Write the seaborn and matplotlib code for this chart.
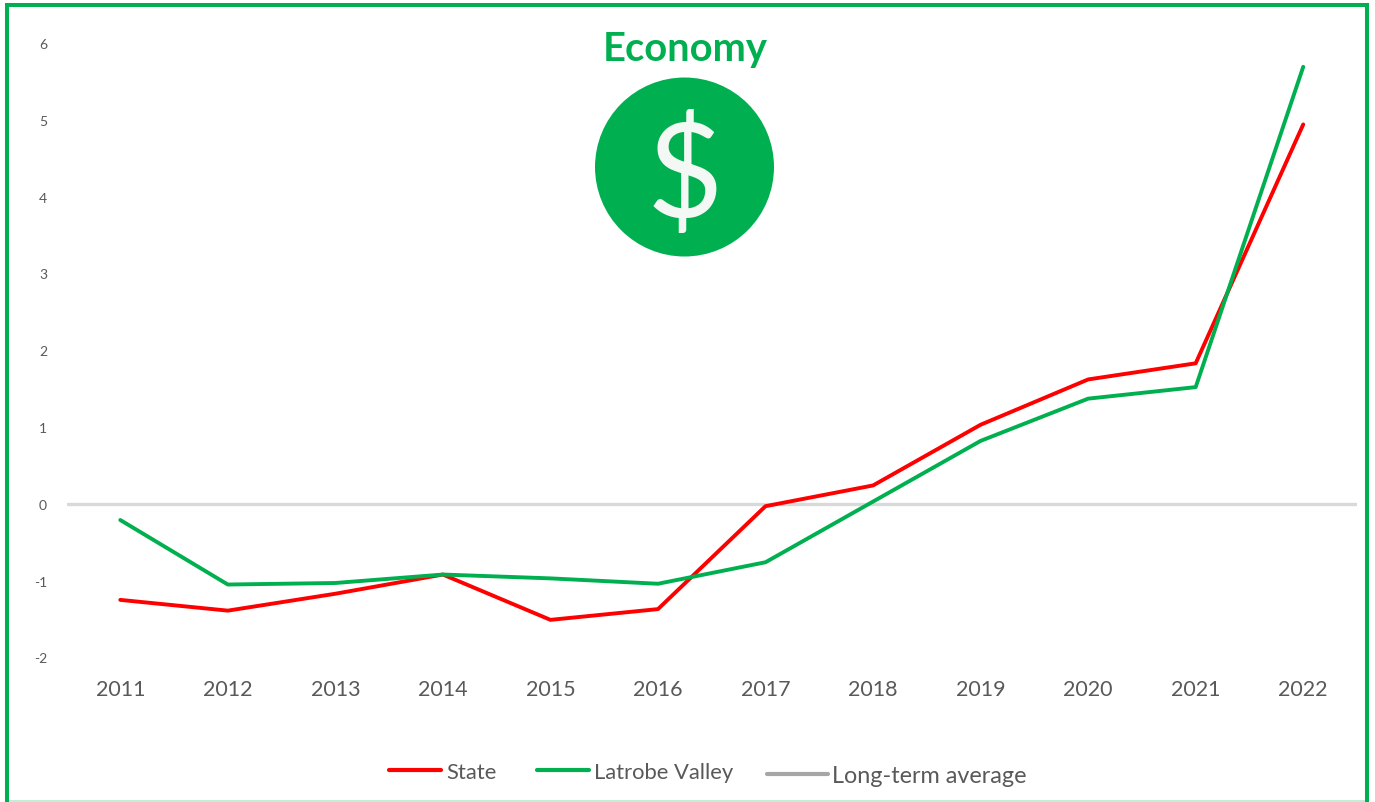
import matplotlib
matplotlib.use('Agg')
import matplotlib.pyplot as plt
import seaborn as sns
import pandas as pd
from matplotlib.lines import Line2D
from matplotlib.patches import Circle

years = [2011, 2012, 2013, 2014, 2015, 2016, 2017, 2018, 2019, 2020, 2021, 2022]
state = [-1.25, -1.39, -1.17, -0.92, -1.51, -1.37, -0.03, 0.24, 1.03, 1.62, 1.83, 4.94]
latrobe = [-0.21, -1.05, -1.03, -0.92, -0.97, -1.04, -0.76, 0.03, 0.82, 1.37, 1.52, 5.69]
long_term = 0
y_ticks = [-2, -1, 0, 1, 2, 3, 4, 5, 6]

RED = '#ff0000'
GREEN = '#00b050'
TEXT = '#595959'
W, H = 1375, 803


def fx(px):
    return px / W


def fy(px):
    return 1 - px / H


sns.set_theme(style='white')
plt.rcParams['font.family'] = ['Lato', 'DejaVu Sans']
plt.rcParams['axes.unicode_minus'] = False

df = pd.DataFrame({'year': years, 'State': state, 'Latrobe Valley': latrobe})
long_df = df.melt('year', var_name='series', value_name='value')

fig = plt.figure(figsize=(13.75, 8.03), dpi=100)
ax = fig.add_axes([fx(66.5), fy(658.5), fx(1357 - 66.5), (658.5 - 44) / H])

ax.axhline(long_term, color='#d9d9d9', lw=2.4, zorder=1)
sns.lineplot(data=long_df, x='year', y='value', hue='series',
             palette={'State': RED, 'Latrobe Valley': GREEN},
             hue_order=['State', 'Latrobe Valley'],
             lw=2.8, legend=False, ax=ax, zorder=3)

ax.set_xlim(2010.5, 2022.5)
ax.set_ylim(-2, 6)
ax.set_xticks(years)
ax.set_yticks(y_ticks)
ax.set_xlabel('')
ax.set_ylabel('')
ax.tick_params(axis='x', length=0, pad=15.5, labelsize=15.5, labelcolor=TEXT)
ax.tick_params(axis='y', length=0, pad=14, labelsize=10, labelcolor=TEXT)
ax.grid(False)
ax.patch.set_alpha(0)
sns.despine(ax=ax, left=True, bottom=True)

# outer frame, the bottom edge is only a pale sliver in the original
for xs, ys, col, lw in [
    ([7, 7], [4, 803], GREEN, 2.9),
    ([1367, 1367], [4, 803], GREEN, 2.9),
    ([5, 1369], [6, 6], GREEN, 2.9),
    ([9, 1365], [802, 802], '#b5eccd', 1.2),
]:
    fig.add_artist(Line2D([fx(x) for x in xs], [fy(y) for y in ys], color=col, lw=lw,
                          solid_capstyle='butt', transform=fig.transFigure))

# title and icon
fig.text(fx(685), fy(49), 'Economy', color=GREEN, fontsize=28.7, fontweight='bold',
         ha='center', va='center')
icon = fig.add_axes([fx(589.5), fy(263), 190 / W, 190 / H])
icon.set_xlim(-95, 95)
icon.set_ylim(-95, 95)
icon.axis('off')
icon.add_patch(Circle((0, 0), 89.5, color=GREEN, lw=0))
icon.text(0, -10, '$', color='#f4f8f5', fontsize=95, ha='center', va='center',
          family=['Lato', 'DejaVu Sans'], fontweight='normal')

# legend
legend_items = [
    (389, 441, 771, RED, 3.0, 'State', 446, 773, 15.8),
    (537, 589, 771, GREEN, 3.0, 'Latrobe Valley', 594, 773, 15.8),
    (767, 828, 775, '#a6a6a6', 3.0, 'Long-term average', 832, 777, 16.8),
]
for x0, x1, y, col, lw, label, tx, ty, fs in legend_items:
    fig.add_artist(Line2D([fx(x0), fx(x1)], [fy(y), fy(y)], color=col, lw=lw,
                          solid_capstyle='round', transform=fig.transFigure))
    fig.text(fx(tx), fy(ty), label, color=TEXT, fontsize=fs, ha='left', va='center')

fig.savefig('out.png', dpi=100)
